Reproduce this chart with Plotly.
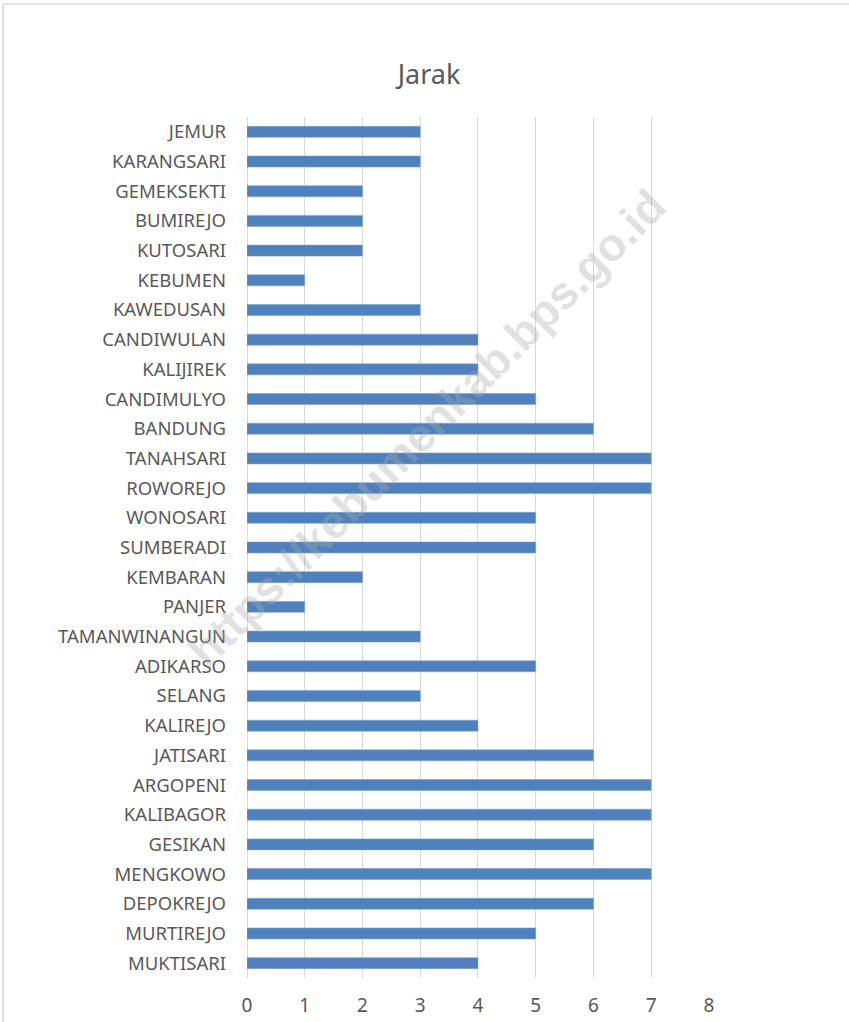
import plotly.graph_objects as go

categories = ["JEMUR", "KARANGSARI", "GEMEKSEKTI", "BUMIREJO", "KUTOSARI", "KEBUMEN",
              "KAWEDUSAN", "CANDIWULAN", "KALIJIREK", "CANDIMULYO", "BANDUNG", "TANAHSARI",
              "ROWOREJO", "WONOSARI", "SUMBERADI", "KEMBARAN", "PANJER", "TAMANWINANGUN",
              "ADIKARSO", "SELANG", "KALIREJO", "JATISARI", "ARGOPENI", "KALIBAGOR",
              "GESIKAN", "MENGKOWO", "DEPOKREJO", "MURTIREJO", "MUKTISARI"]
jarak = [3, 3, 2, 2, 2, 1, 3, 4, 4, 5, 6, 7, 7, 5, 5, 2, 1, 3, 5, 3, 4, 6, 7, 7, 6, 7, 6, 5, 4]
x_ticks = [0, 1, 2, 3, 4, 5, 6, 7, 8]

W, H = 849, 1022
L, R, T, B = 247, 849 - 709, 117, 1022 - 978
pw, ph = W - L - R, H - T - B

fig = go.Figure(go.Bar(
    y=categories, x=jarak, orientation="h", width=0.37,
    marker=dict(color="#4F81BD", line=dict(color="#7FA3D0", width=0.6)),
))

TXT = "#595959"
FONT = "Noto Sans"
fig.update_layout(
    width=W, height=H,
    margin=dict(l=L, r=R, t=T, b=B, pad=0, autoexpand=False),
    paper_bgcolor="white", plot_bgcolor="white",
    showlegend=False,
    font=dict(family=FONT, color=TXT),
    title=dict(text="Jarak", x=429 / W, xref="container", xanchor="center",
               y=1 - 75 / H, yref="container", yanchor="middle",
               font=dict(size=27, color=TXT, family=FONT)),
    xaxis=dict(range=[0, 8.001], tickvals=x_ticks, showgrid=True, gridcolor="#D9D9D9",
               gridwidth=1, zeroline=True, zerolinecolor="#D9D9D9", zerolinewidth=1,
               showline=False, ticks="", tickfont=dict(size=19, color=TXT),
               ticklabelstandoff=14, automargin=False, fixedrange=True),
    yaxis=dict(autorange="reversed", showgrid=False, zeroline=False, showline=False,
               ticks="", tickfont=dict(size=18.5, color=TXT), ticklabelstandoff=20,
               automargin=False, fixedrange=True),
)

# outer chart frame (light gray), partly visible at left and top
x0 = (3 - L) / pw
y_top = (H - B - 4) / ph
fig.add_shape(type="line", xref="paper", yref="paper", x0=x0, x1=x0, y0=-0.2, y1=y_top,
              line=dict(color="#D9D9D9", width=1.5))
fig.add_shape(type="line", xref="paper", yref="paper", x0=x0, x1=1.5, y0=y_top, y1=y_top,
              line=dict(color="#D9D9D9", width=1.5))

# watermark
fig.add_annotation(text="<b>https://kebumenkab.bps.go.id</b>", xref="paper", yref="paper",
                   x=(427 - L) / pw, y=(H - B - 428) / ph, showarrow=False, textangle=-45,
                   font=dict(size=46, color="rgba(170,170,170,0.35)", family="Liberation Sans"),
                   xanchor="center", yanchor="middle")

fig.write_html("out.html", config={"displayModeBar": False},
               post_script="document.body.style.margin='0';")
